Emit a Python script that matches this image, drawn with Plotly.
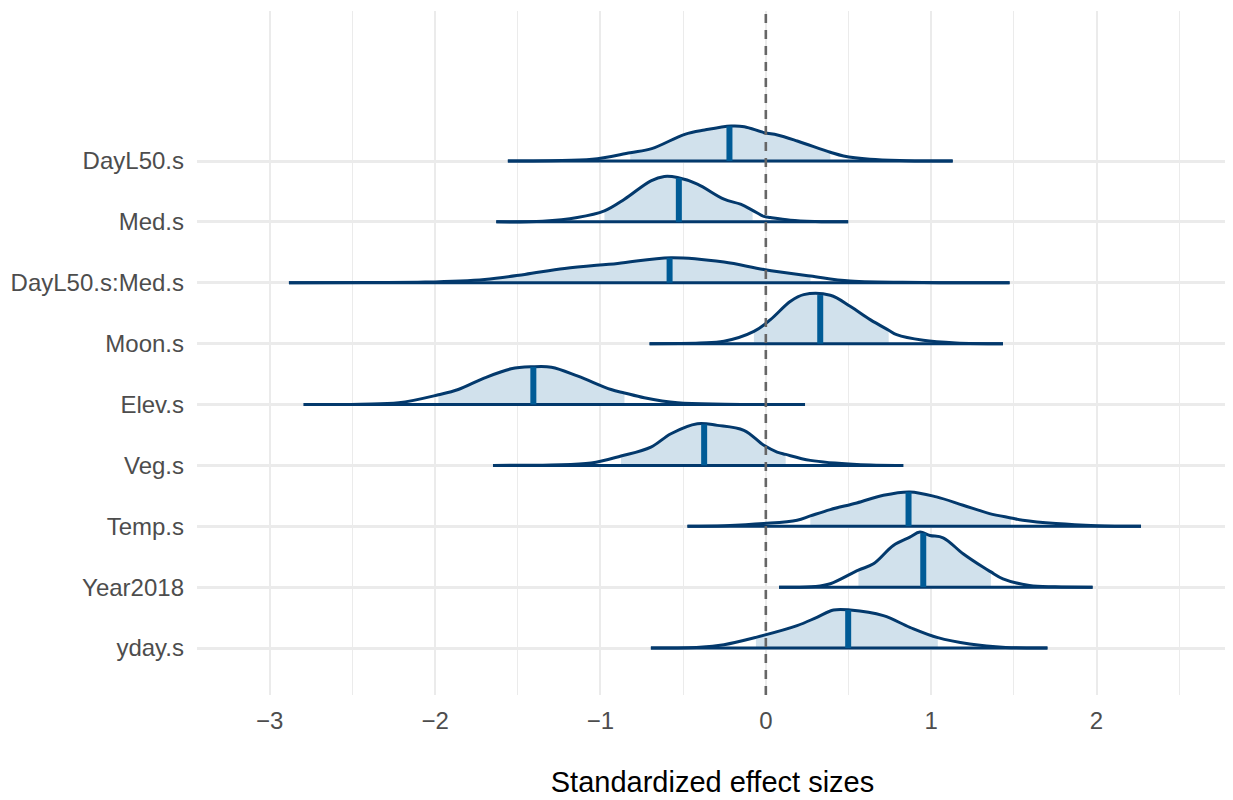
import numpy as np
import plotly.graph_objects as go

# ---- data ----
params = ["DayL50.s", "Med.s", "DayL50.s:Med.s", "Moon.s", "Elev.s",
          "Veg.s", "Temp.s", "Year2018", "yday.s"]

dayl50_x = [-1.56, -1.30, -1.05, -0.82, -0.69, -0.49, -0.37, -0.21, -0.13, -0.01, 0.07, 0.19, 0.39, 0.47, 0.63, 0.85, 1.13]
dayl50_h = [0.0, 0.005, 0.027, 0.137, 0.203, 0.438, 0.509, 0.575, 0.564, 0.465, 0.427, 0.329, 0.144, 0.082, 0.027, 0.006, 0.0]

med_x = [-1.63, -1.35, -1.14, -0.976, -0.855, -0.695, -0.614, -0.534, -0.414, -0.253, -0.153, -0.08, -0.012, 0.028, 0.149, 0.30, 0.498]
med_h = [0.0, 0.01, 0.071, 0.181, 0.372, 0.674, 0.745, 0.728, 0.619, 0.372, 0.29, 0.19, 0.09, 0.071, 0.027, 0.007, 0.0]

daymed_x = [-2.884, -2.40, -2.06, -1.70, -1.458, -1.217, -0.896, -0.574, -0.253, -0.012, 0.27, 0.51, 0.952, 1.474]
daymed_h = [0.0, 0.004, 0.011, 0.055, 0.137, 0.235, 0.318, 0.411, 0.340, 0.219, 0.110, 0.027, 0.005, 0.0]

moon_x = [-0.703, -0.40, -0.253, -0.072, 0.028, 0.149, 0.229, 0.39, 0.51, 0.631, 0.743, 0.791, 0.952, 1.15, 1.434]
moon_h = [0.0, 0.01, 0.038, 0.20, 0.394, 0.696, 0.805, 0.794, 0.613, 0.394, 0.22, 0.148, 0.055, 0.012, 0.0]

elev_x = [-2.795, -2.45, -2.22, -1.98, -1.86, -1.70, -1.54, -1.418, -1.297, -1.136, -0.936, -0.855, -0.735, -0.534, -0.25, 0.237]
elev_h = [0.0, 0.006, 0.027, 0.159, 0.246, 0.438, 0.586, 0.619, 0.613, 0.465, 0.246, 0.19, 0.110, 0.027, 0.004, 0.0]

veg_x = [-1.65, -1.30, -1.056, -0.876, -0.695, -0.574, -0.414, -0.293, -0.133, -0.012, 0.068, 0.12, 0.269, 0.55, 0.831]
veg_h = [0.0, 0.008, 0.038, 0.153, 0.301, 0.520, 0.684, 0.657, 0.575, 0.329, 0.219, 0.18, 0.082, 0.016, 0.0]

temp_x = [-0.474, -0.25, -0.012, 0.189, 0.269, 0.39, 0.55, 0.711, 0.871, 1.032, 1.193, 1.353, 1.482, 1.554, 1.755, 2.0, 2.269]
temp_h = [0.0, 0.01, 0.044, 0.099, 0.17, 0.274, 0.383, 0.509, 0.564, 0.482, 0.345, 0.208, 0.137, 0.099, 0.044, 0.01, 0.0]

year_x = [0.08, 0.30, 0.39, 0.56, 0.651, 0.771, 0.871, 0.932, 0.992, 1.072, 1.193, 1.313, 1.361, 1.434, 1.594, 1.75, 1.976]
year_h = [0.0, 0.01, 0.055, 0.28, 0.383, 0.684, 0.821, 0.904, 0.849, 0.810, 0.548, 0.329, 0.25, 0.137, 0.027, 0.005, 0.0]

yday_x = [-0.695, -0.40, -0.253, -0.06, 0.189, 0.309, 0.41, 0.51, 0.711, 0.871, 1.04, 1.233, 1.45, 1.703]
yday_h = [0.0, 0.012, 0.055, 0.175, 0.367, 0.504, 0.624, 0.624, 0.531, 0.340, 0.17, 0.066, 0.01, 0.0]

dens_x = [dayl50_x, med_x, daymed_x, moon_x, elev_x, veg_x, temp_x, year_x, yday_x]
dens_h = [dayl50_h, med_h, daymed_h, moon_h, elev_h, veg_h, temp_h, year_h, yday_h]

medians = [-0.22, -0.526, -0.582, 0.329, -1.406, -0.373, 0.863, 0.952, 0.498]
inner_lo = [-0.82, -0.976, -2.40, -0.072, -1.98, -0.876, 0.269, 0.56, -0.06]
inner_hi = [0.39, -0.08, 0.27, 0.743, -0.855, 0.12, 1.482, 1.361, 1.04]

x_ticks = [-3, -2, -1, 0, 1, 2]
ref_x = 0
x_title = "Standardized effect sizes"

# ---- style ----
FILL = "#d1e1ec"
OUTLINE = "#03396c"
MEDIAN = "#005b96"
GRID = "#ebebeb"
FONT = "Liberation Sans, Arial, sans-serif"

fig = go.Figure()
n = len(params)
for i, name in enumerate(params):
    base = n - i
    xs = np.array(dens_x[i], dtype=float)
    hs = np.array(dens_h[i], dtype=float)
    sel = (xs >= inner_lo[i] - 1e-9) & (xs <= inner_hi[i] + 1e-9)
    # inner shaded area
    fig.add_trace(go.Scatter(x=[xs[sel][0], xs[sel][-1]], y=[base, base],
                             mode="lines", line=dict(width=0, color=FILL),
                             hoverinfo="skip", showlegend=False))
    fig.add_trace(go.Scatter(x=xs[sel], y=base + hs[sel], mode="lines",
                             line=dict(width=0, color=FILL, shape="spline", smoothing=1),
                             fill="tonexty", fillcolor=FILL,
                             hoverinfo="skip", showlegend=False))
    # outline
    fig.add_trace(go.Scatter(x=xs, y=base + hs, mode="lines",
                             line=dict(width=3, color=OUTLINE, shape="spline", smoothing=1),
                             name=name, showlegend=False))
    fig.add_trace(go.Scatter(x=[xs[0], xs[-1]], y=[base, base], mode="lines",
                             line=dict(width=3, color=OUTLINE),
                             hoverinfo="skip", showlegend=False))
    # median
    mh = float(np.interp(medians[i], xs, hs))
    fig.add_trace(go.Scatter(x=[medians[i], medians[i]], y=[base, base + mh], mode="lines",
                             line=dict(width=6, color=MEDIAN),
                             hoverinfo="skip", showlegend=False))

fig.add_vline(x=ref_x, line=dict(color="#666666", width=2.6, dash="9px,7px"), layer="above")

fig.update_layout(
    width=1225, height=792,
    margin=dict(l=187, r=5, t=3, b=105),
    paper_bgcolor="white", plot_bgcolor="white",
    font=dict(family=FONT, size=24, color="#4d4d4d"),
    xaxis=dict(range=[-3.44, 2.795], tickvals=x_ticks, showgrid=True,
               gridcolor=GRID, gridwidth=2, zeroline=False, showline=False,
               ticks="", ticklabelstandoff=9,
               tickfont=dict(size=24, color="#4d4d4d"),
               minor=dict(dtick=0.5, tick0=0, showgrid=True, gridcolor=GRID, gridwidth=1),
               title=dict(text=x_title, font=dict(size=29, color="black"), standoff=38)),
    yaxis=dict(range=[0.228, 11.464], tickvals=[n - i for i in range(n)], ticktext=params,
               showgrid=True, gridcolor=GRID, gridwidth=2.5, zeroline=False, showline=False,
               ticks="", ticklabelstandoff=12,
               tickfont=dict(size=24, color="#4d4d4d")),
)

fig.write_html("out.html")
